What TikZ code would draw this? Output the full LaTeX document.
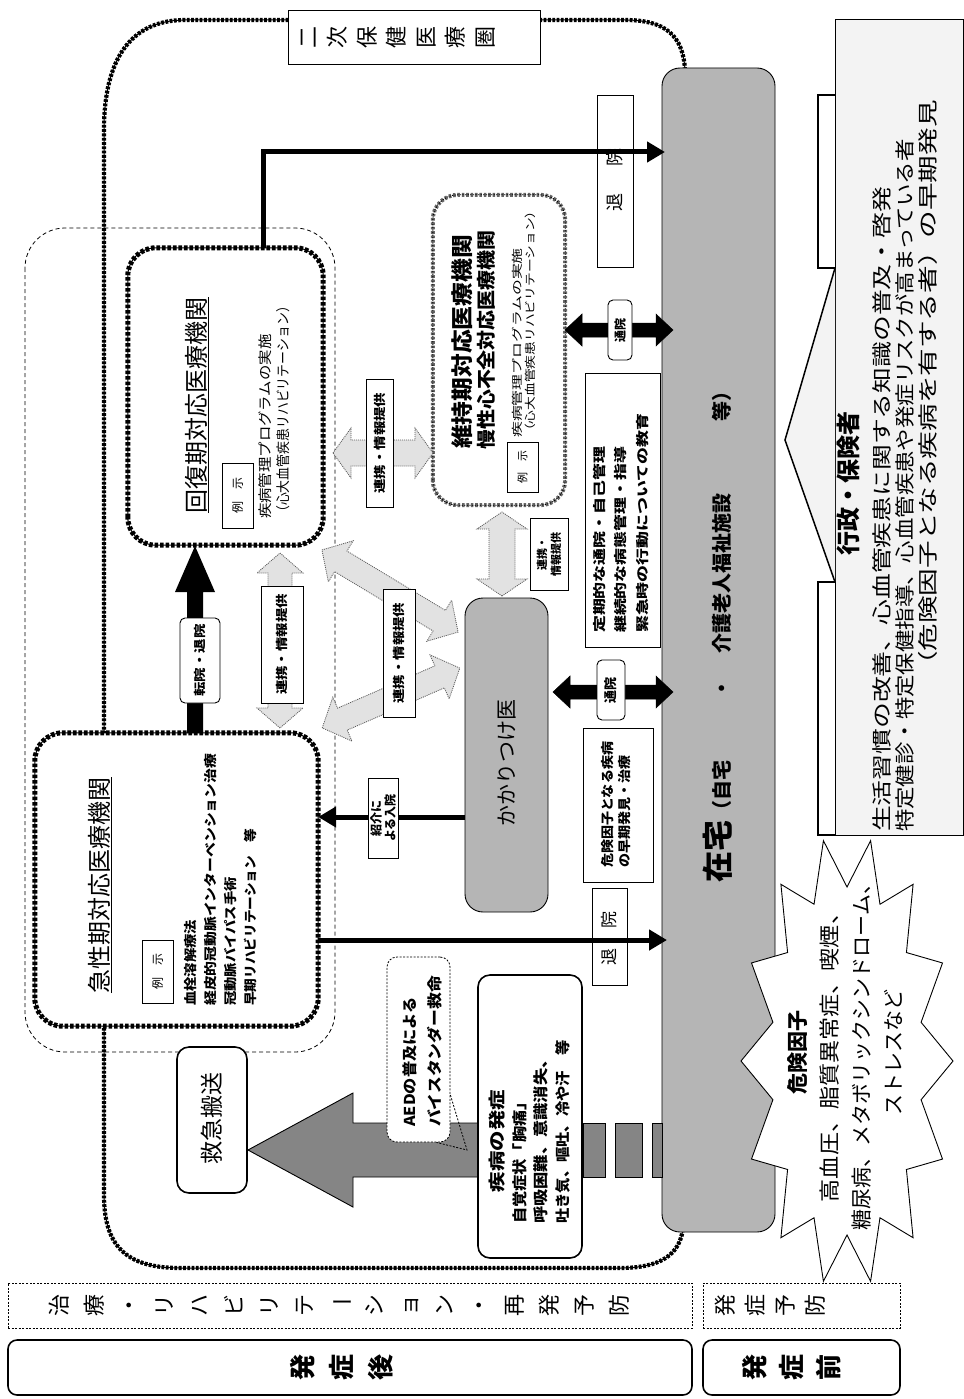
\documentclass[tikz,border=0pt]{standalone}
\usepackage{fontspec}
\setmainfont{Noto Sans CJK JP}
\usepackage{graphicx}
\usetikzlibrary{arrows.meta}
\definecolor{bargray}{HTML}{B5B5B5}
\definecolor{lgray}{HTML}{E2E2E2}
\definecolor{agray}{HTML}{858585}
\definecolor{pale}{HTML}{F3F3F3}
\newcommand\myfs[2]{\fontsize{#1pt}{#2pt}\selectfont}
\newcommand\sx[2]{\scalebox{#1}[1]{#2}}
\newcommand\dblarr[8]{\begin{scope}[shift={(#1,#2)},rotate=#3]
 \draw[#8] ({-#4/2},0) -- ({-#4/2+#7},{-#6}) -- ({-#4/2+#7},{-#5}) -- ({#4/2-#7},{-#5}) -- ({#4/2-#7},{-#6}) -- ({#4/2},0) -- ({#4/2-#7},{#6}) -- ({#4/2-#7},{#5}) -- ({-#4/2+#7},{#5}) -- ({-#4/2+#7},{#6}) -- cycle;
 \end{scope}}
\tikzset{
 outerrail/.style={line width=4.2pt, dash pattern=on 2.8pt off 1.5pt, postaction={draw, solid, line width=1pt}},
 railline/.style={line width=5pt, dash pattern=on 3.6pt off 1.9pt, postaction={draw, solid, line width=1pt}},
 gdash/.style={draw=black!60, line width=4pt, dash pattern=on 2.6pt off 1.8pt, postaction={draw=black, line width=0.9pt, dash pattern=on 1.3pt off 1.3pt}},
 thindash/.style={draw, line width=0.8pt, dash pattern=on 4pt off 3pt},
 dashbox/.style={draw, line width=0.8pt, dash pattern=on 2pt off 1.5pt, fill=white},
 phasebox/.style={draw, line width=1.6pt, rounded corners=9pt, fill=white},
 wbox/.style={draw, line width=0.9pt, fill=white},
 rbox/.style={draw, line width=0.9pt, fill=white, rounded corners=5pt},
 tbox/.style={draw, line width=1.6pt, fill=white, rounded corners=12pt},
 blk/.style={line width=5pt, -{Triangle[length=18pt,width=20pt]}},
 lightarr/.style={fill=lgray, draw=black!65, line width=0.8pt, dash pattern=on 1pt off 1pt},
 blackarr/.style={fill=black, draw=black, line width=0.5pt},
 vt/.style={rotate=90, align=center},
 lt/.style={rotate=90, align=left, anchor=north west},
}
\begin{document}
\begin{tikzpicture}[x=1pt,y=-1pt, every node/.style={inner sep=0pt}]
\useasboundingbox (0,0) rectangle (963,1399);
\fill[white] (0,0) rectangle (963,1399);

% outer boundary of the secondary medical area
\draw[outerrail] (685,70) .. controls (683,35) and (665,20) .. (625,20) -- (185,20) .. controls (130,20) and (104,60) .. (104,130) -- (104,1195) .. controls (104,1245) and (125,1268) .. (180,1268) -- (620,1268) .. controls (660,1268) and (680,1255) .. (683,1228);
% thin dashed region
\draw[thindash, rounded corners=40pt] (25,228) rectangle (335,1052);

% home bar
\node[draw, fill=bargray, rounded corners=18pt, line width=0.9pt, minimum width=113pt, minimum height=1164pt] (bar) at (718.5,650) {};
\node[rotate=90, font=\bfseries\myfs{20}{20}] (bar-t) at (718,632) {{\myfs{31}{31}在宅}（自宅\hspace{62pt}・\hspace{25pt}介護老人福祉施設\hspace{72pt}等）};

% administration box
\node[fill=pale, draw, line width=1pt, minimum width=128pt, minimum height=815pt] (gyosei) at (899,427.5) {};
\draw[line width=1.5pt, fill=pale] (835,268) -- (785,440) -- (835,582);
\draw[line width=2pt, fill=white] (835,95) -- (818,95) -- (818,268) -- (835,268);
\draw[line width=2pt, fill=white] (835,582) -- (818,582) -- (818,835) -- (835,835);
\node[rotate=90, font=\bfseries\myfs{24}{24}] (gyosei-t) at (848,483) {行政・保険者};
\node[lt, font=\myfs{20}{23}] (gyosei-d) at (872,832) {\sx{1.29}{生活習慣の改善、心血管疾患に関する知識の普及・啓発}\\\sx{1.12}{特定健診・特定保健指導、心血管疾患や発症リスクが高まっている者}};
\node[rotate=90, anchor=east, font=\myfs{20}{23}] (gyosei-e) at (928,100) {\sx{1.38}{（危険因子となる疾病を有する者）の早期発見}};

% risk factor star
\draw[fill=white, line width=0.9pt] plot[variable=\i, samples at={0,...,27}] ({847+(91+15*cos(180*\i))*cos(77.14+\i*12.857)}, {1061-(200+26*cos(180*\i))*sin(77.14+\i*12.857)}) -- cycle;
\node[rotate=90, align=center, font=\myfs{21}{32}] (risk) at (845,1052) {\textbf{危険因子}\\\sx{1.1}{高血圧、脂質異常症、喫煙、}\\糖尿病、メタボリックシンドローム、\\ストレスなど};

% bottom bands
\node[dashbox, minimum width=684pt, minimum height=45pt] (b1) at (350,1305.5) {};
\node[vt, font=\myfs{22}{35}] (b1-t) at (339,1305.5) {治\\療\\・\\リ\\ハ\\ビ\\リ\\テ\\\rotatebox[origin=c]{-90}{ー}\\シ\\ョ\\ン\\・\\再\\発\\予\\防};
\node[dashbox, minimum width=197pt, minimum height=45pt] (b2) at (801.5,1305.5) {};
\node[vt, font=\myfs{22}{30}] (b2-t) at (770,1305.5) {発\\症\\予\\防};
\node[phasebox, minimum width=684pt, minimum height=55pt] (b3) at (350,1367.5) {};
\node[vt, font=\bfseries\myfs{26}{39}] (b3-t) at (342,1367.5) {発\\症\\後};
\node[phasebox, minimum width=197pt, minimum height=55pt] (b4) at (801.5,1367.5) {};
\node[vt, font=\bfseries\myfs{26}{37}] (b4-t) at (792,1367.5) {発\\症\\前};

% secondary medical area label
\node[wbox, minimum width=252pt, minimum height=54pt] (niji) at (414,37) {};
\node[vt, font=\myfs{22}{29.5}] (niji-t) at (398,38) {二\\次\\保\\健\\医\\療\\圏};

% big grey onset arrow
\draw[fill=agray, line width=0.9pt] (248,1150) -- (353,1093) -- (353,1123) -- (480,1123) -- (480,1177) -- (353,1177) -- (353,1207) -- cycle;
\draw[fill=agray, line width=0.6pt] (583,1123) rectangle (605,1177);
\draw[fill=agray, line width=0.6pt] (615,1123) rectangle (642,1177);
\draw[fill=agray, line width=0.6pt] (652,1123) rectangle (662,1177);

% recovery phase
\node[fill=white, rounded corners=28pt, minimum width=195pt, minimum height=297pt] (kaifuku) at (225.5,396.5) {};
\draw[railline, rounded corners=28pt] (kaifuku.south west) rectangle (kaifuku.north east);
\node[rotate=90, font=\myfs{24}{24}] (kaifuku-t) at (197,405) {\underline{回復期対応医療機関}};
\node[wbox, rotate=90, minimum width=65pt, minimum height=31pt, font=\myfs{12}{12}] (kaifuku-e) at (237.5,495.5) {例　示};
\node[lt, font=\myfs{14}{18}] (kaifuku-d) at (258,519) {\sx{1.1}{疾病管理プログラムの実施}\\\sx{0.92}{（心大血管疾患リハビリテーション）}};

% acute phase
\node[fill=white, rounded corners=28pt, minimum width=283pt, minimum height=293pt] (kyusei) at (176.5,879.5) {};
\draw[railline, rounded corners=28pt] (kyusei.south west) rectangle (kyusei.north east);
\node[rotate=90, font=\myfs{24}{24}] (kyusei-t) at (100,885) {\underline{急性期対応医療機関}};
\node[wbox, rotate=90, minimum width=63pt, minimum height=31pt, font=\myfs{12}{12}] (kyusei-e) at (157.5,971.5) {例　示};
\node[lt, font=\bfseries\myfs{13}{20}] (kyusei-d) at (184,1006) {\sx{1.1}{血栓溶解療法}\\\sx{1.14}{経皮的冠動脈インターベンション治療}\\\sx{1.1}{冠動脈バイパス手術}\\\sx{1.05}{早期リハビリテーション　等}};

% maintenance phase
\node[fill=white, rounded corners=25pt, minimum width=132pt, minimum height=310pt] (iji) at (499,350) {};
\draw[gdash, rounded corners=25pt] (iji.south west) rectangle (iji.north east);
\node[rotate=90, anchor=west, font=\bfseries\myfs{22}{22}] (iji-t1) at (462,449) {\sx{1.08}{維持期対応医療機関}};
\node[rotate=90, anchor=west, font=\bfseries\myfs{19}{19}] (iji-t2) at (486,450) {\sx{1.05}{慢性心不全対応医療機関}};
\node[wbox, rotate=90, minimum width=50pt, minimum height=31pt, font=\myfs{11}{11}] (iji-e) at (522.5,467) {例　示};
\node[lt, font=\myfs{11}{13}] (iji-d) at (512,438) {\sx{1.44}{疾病管理プログラムの実施}\\\sx{1.25}{（心大血管疾患リハビリテーション）}};

% family doctor
\node[draw, fill=bargray, rounded corners=18pt, line width=0.9pt, minimum width=83pt, minimum height=314pt] (kakari) at (506.5,755) {};
\node[rotate=90, font=\myfs{21}{21}] (kakari-t) at (507,763) {かかりつけ医};

% cooperation arrows
\dblarr{383}{453}{0}{100}{13}{25}{18}{lightarr}
\dblarr{280}{640.5}{90}{175}{12}{23}{20}{lightarr}
\dblarr{390}{591}{-31.1}{159}{12}{24}{22}{lightarr}
\dblarr{391}{698}{23.5}{150}{12}{24}{22}{lightarr}
\dblarr{502}{554}{90}{84}{13}{25}{17}{lightarr}
\node[wbox, rotate=90, minimum width=128pt, minimum height=27pt, font=\bfseries\myfs{12}{12}] (r1) at (379.5,443) {\sx{1.2}{連携・情報提供}};
\node[wbox, rotate=90, minimum width=117pt, minimum height=42pt, font=\bfseries\myfs{12}{12}] (r2) at (282,644.5) {\sx{1.2}{連携・情報提供}};
\node[wbox, rotate=90, minimum width=128pt, minimum height=32pt, font=\bfseries\myfs{12}{12}] (r3) at (399,653) {\sx{1.2}{連携・情報提供}};
\node[wbox, rotate=90, align=center, minimum width=72pt, minimum height=38pt, font=\bfseries\myfs{11}{14}] (r4) at (549,554) {連携・\\情報提供};

% transfer arrow acute -> recovery
\fill[black] (195,546) -- (215,592) -- (203,592) -- (203,733) -- (187,733) -- (187,592) -- (175,592) -- cycle;
\node[rbox, rotate=90, minimum width=85pt, minimum height=40pt, font=\bfseries\myfs{12}{12}] (tenin) at (200,660.5) {\sx{1.2}{転院・退院}};

% outpatient arrows
\dblarr{613}{692}{0}{120}{7}{16}{17}{blackarr}
\dblarr{619}{330}{0}{108}{7}{16}{17}{blackarr}
\node[rbox, rotate=90, minimum width=60pt, minimum height=28pt, font=\bfseries\myfs{13}{13}] (tsuin1) at (611,690) {通院};
\node[rbox, rotate=90, minimum width=60pt, minimum height=24pt, font=\bfseries\myfs{12}{12}] (tsuin2) at (620,330) {通院};

% discharge
\node[wbox, minimum width=36pt, minimum height=172pt] (taiin1) at (615,181) {};
\node[rotate=90, font=\myfs{18}{18}] (taiin1-t) at (615,180) {退\hspace{27pt}院};
\coordinate (t1end) at (665,152);
\draw[blk] ([xshift=37.5pt]kaifuku.north) |- (t1end);
\node[wbox, minimum width=35pt, minimum height=97pt] (taiin2) at (609.5,936.5) {};
\node[rotate=90, font=\myfs{17}{17}] (taiin2-t) at (609.5,938) {退\hspace{20pt}院};
\coordinate (t2end) at (667,940);
\draw[blk] (kyusei.east |- t2end) -- (t2end);

% referral
\draw[blk] (kakari.west |- 0,817) -- (kyusei.east |- 0,817);
\node[wbox, rotate=90, align=center, minimum width=80pt, minimum height=30pt, font=\bfseries\myfs{12}{14}] (shokai) at (383,818) {紹介に\\よる入院};

% info boxes near home bar
\node[wbox, minimum width=75pt, minimum height=274pt] (teiki) at (622.5,510) {};
\node[lt, font=\bfseries\myfs{13}{21.5}] (teiki-t) at (593,633) {\sx{1.3}{定期的な通院・自己管理}\\\sx{1.3}{継続的な病態管理・指導}\\\sx{1.3}{緊急時の行動についての教育}};
\node[wbox, minimum width=70pt, minimum height=154pt] (kiken) at (618,805) {};
\node[lt, font=\bfseries\myfs{13}{17}] (kiken-t) at (601,868) {\sx{1.08}{危険因子となる疾病}\\\sx{1.08}{の早期発見・治療}};

% AED callout
\node[draw, dash pattern=on 2pt off 1.5pt, line width=0.8pt, fill=white, rounded corners=10pt, minimum width=63pt, minimum height=185pt] (aed) at (418.5,1049.5) {};
\coordinate (aedtip) at (467,1150);
\draw[line width=0.8pt, dash pattern=on 2pt off 1.5pt] (aed.east |- 0,1095) -- (aedtip) -- ([xshift=-14pt]aed.south east);
\node[lt, font=\bfseries\myfs{15}{25}] (aed-t) at (402,1127) {\sx{1.08}{AEDの普及による}\\\sx{1.12}{バイスタンダー救命}};

% onset box
\node[tbox, minimum width=104pt, minimum height=283pt] (shippei) at (530,1116.5) {};
\node[rotate=90, font=\bfseries\myfs{17}{17}] (shippei-t) at (497,1141) {\sx{1.2}{疾病の発症}};
\node[lt, font=\bfseries\myfs{15}{21.5}] (shippei-d) at (512,1224) {\sx{1.08}{自覚症状「胸痛」}\\\sx{1.15}{呼吸困難、意識消失、}\\\sx{1.02}{吐き気、嘔吐、冷や汗　等}};

% emergency transport
\node[tbox, minimum width=70pt, minimum height=146pt] (kyukyu) at (212,1120) {};
\node[rotate=90, font=\myfs{23}{23}] (kyukyu-t) at (212,1118) {救急搬送};
\end{tikzpicture}
\end{document}
